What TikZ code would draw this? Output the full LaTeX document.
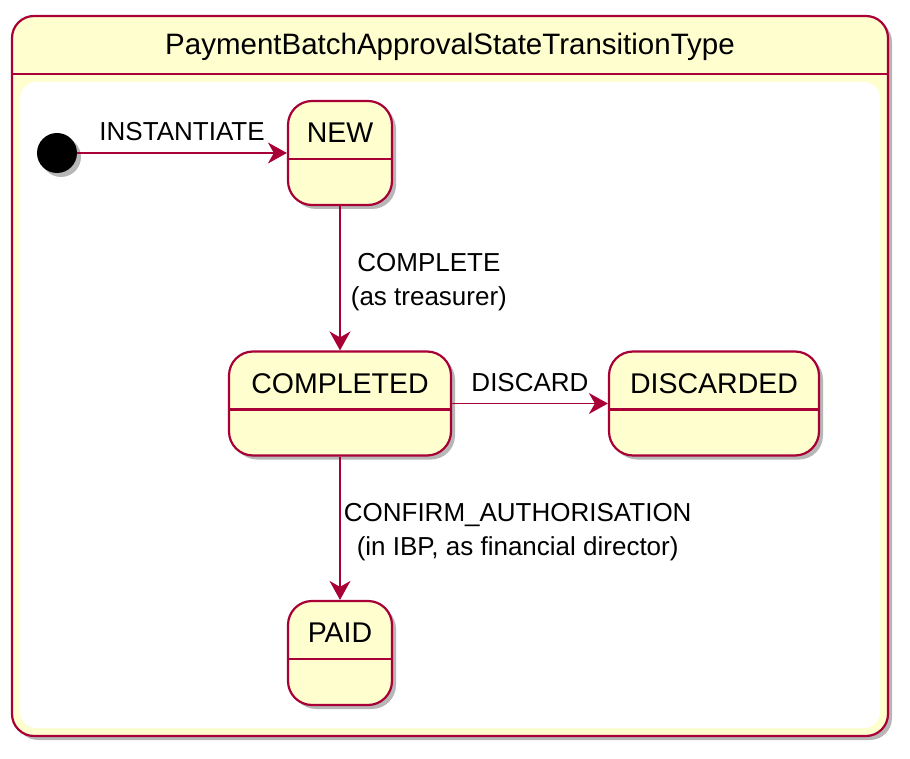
\documentclass[tikz,border=0pt]{standalone}
\usepackage{fontspec}
\setmainfont{Liberation Sans}
\usetikzlibrary{arrows.meta,shadows}
\definecolor{umlBorder}{HTML}{A80036}
\definecolor{umlFill}{HTML}{FEFECE}
\tikzset{
    umlshadow/.style={drop shadow={shadow xshift=4pt, shadow yshift=-4pt, opacity=.4, fill=black!70}},
    stbox/.style={draw=umlBorder, line width=2.2pt, rounded corners=24pt, fill=umlFill, minimum height=104pt, text height=20pt, text depth=41pt, inner xsep=0pt, font=\fontsize{28.5}{32}\selectfont, umlshadow},
    stline/.style={draw=umlBorder, line width=2.2pt},
    initdot/.style={circle, fill=black, minimum size=40pt, inner sep=0pt, umlshadow},
    outerbox/.style={draw=umlBorder, line width=2.2pt, rounded corners=22pt, fill=umlFill, umlshadow},
    elabel/.style={font=\fontsize{26}{34}\selectfont, inner sep=2pt, text=black},
    arrline/.style={draw=umlBorder, line width=1.7pt, -{Stealth[length=19pt, width=21pt, inset=6pt]}}
}
\begin{document}
\begin{tikzpicture}[x=1pt, y=-1pt]
    \useasboundingbox (0,0) rectangle (910,759);
    % container
    \draw[outerbox] (12,16) rectangle (888,736);
    \fill[white, rounded corners=16pt] (20,82) rectangle (880,728);
    \draw[stline] (12,74) -- (888,74);
    \node[font=\fontsize{29.5}{32}\selectfont] (title) at (450,47) {PaymentBatchApprovalStateTransitionType};
    % states
    \node[initdot] (start) at (57,153) {};
    \node[stbox, minimum width=104pt] (new) at (340,153) {NEW};
    \node[stbox, minimum width=222pt] (completed) at (340,403.5) {COMPLETED};
    \node[stbox, minimum width=210pt] (discarded) at (714,403.5) {DISCARDED};
    \node[stbox, minimum width=104pt] (paid) at (340,653) {PAID};
    \foreach \s in {new,completed,discarded,paid}{
        \draw[stline] ([yshift=-6pt]\s.west) -- ([yshift=-6pt]\s.east);
    }
    % transitions
    \draw[arrline] (start) -- node[elabel, above=9pt] {INSTANTIATE} (new);
    \draw[arrline] (new) -- node[elabel, right=8pt, yshift=-4pt, align=center] {COMPLETE\\(as treasurer)} (completed);
    \draw[arrline] (completed) -- node[elabel, above=9pt] {DISCARD} (discarded);
    \draw[arrline] (completed) -- node[elabel, right=1pt, yshift=-4pt, align=center] {CONFIRM\_AUTHORISATION\\(in IBP, as financial director)} (paid);
\end{tikzpicture}
\end{document}
